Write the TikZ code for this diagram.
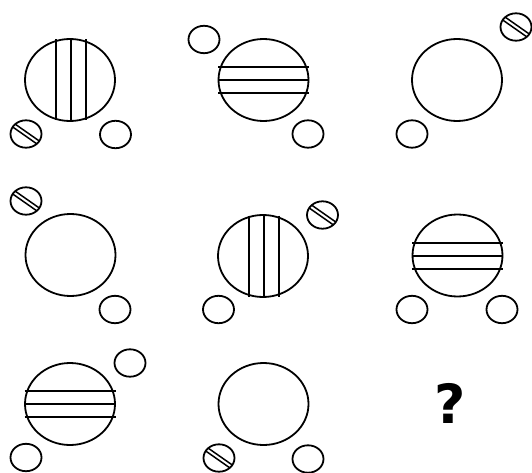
\documentclass[tikz,border=0pt]{standalone}
\usepackage{fontspec}
\newfontfamily\qfont{DejaVu Sans}
\tikzset{
  lw/.style={line width=1.8pt},
  bigell/.pic={\draw[lw] (0,0) ellipse [x radius=45, y radius=41];},
  smallell/.pic={\draw[lw] (0,0) ellipse [x radius=15.5, y radius=13.7];},
  hatchell/.pic={
    \begin{scope}
      \clip (0,0) ellipse [x radius=15.5, y radius=13.7];
      \draw[line width=1.5pt] (-20,-16.3) -- (20,11.7);
      \draw[line width=1.5pt] (-20,-11.7) -- (20,16.3);
    \end{scope}
    \draw[lw] (0,0) ellipse [x radius=15.5, y radius=13.7];},
  vbars/.pic={\foreach \d in {-15,0,15} \draw[lw] (\d,-40.5) -- (\d,40.5);},
  hbars/.pic={\foreach \d in {-13,0,13} \draw[lw] (-45.5,\d) -- (45.5,\d);}
}
\begin{document}
\begin{tikzpicture}[x=1pt,y=-1pt]
\useasboundingbox (0,0) rectangle (532,473);
% panel 1
\pic at (70,80) {bigell}; \pic at (71,80) {vbars};
\pic at (26,134) {hatchell}; \pic at (115.5,134.5) {smallell};
% panel 2
\pic at (263.5,80) {bigell}; \pic at (263.5,80) {hbars};
\pic at (204,39.5) {smallell}; \pic at (308,134) {smallell};
% panel 3
\pic at (457,80) {bigell};
\pic at (516,27) {hatchell}; \pic at (412,134) {smallell};
% panel 4
\pic at (70.5,255) {bigell};
\pic at (26,201) {hatchell}; \pic at (115,309.5) {smallell};
% panel 5
\pic at (263,256) {bigell}; \pic at (264,256) {vbars};
\pic at (322.5,215) {hatchell}; \pic at (218.5,309.5) {smallell};
% panel 6
\pic at (457.5,255.5) {bigell}; \pic at (457.5,256) {hbars};
\pic at (412,309.5) {smallell}; \pic at (502,309.5) {smallell};
% panel 7
\pic at (70,404) {bigell}; \pic at (70,404) {hbars};
\pic at (130,363) {smallell}; \pic at (26,457.5) {smallell};
% panel 8
\pic at (263.5,404) {bigell};
\pic at (219,458) {hatchell}; \pic at (308,459) {smallell};
% panel 9
\node[font=\qfont\bfseries\fontsize{54}{60}\selectfont, inner sep=0pt] (q) at (450,403) {?};
\end{tikzpicture}
\end{document}
